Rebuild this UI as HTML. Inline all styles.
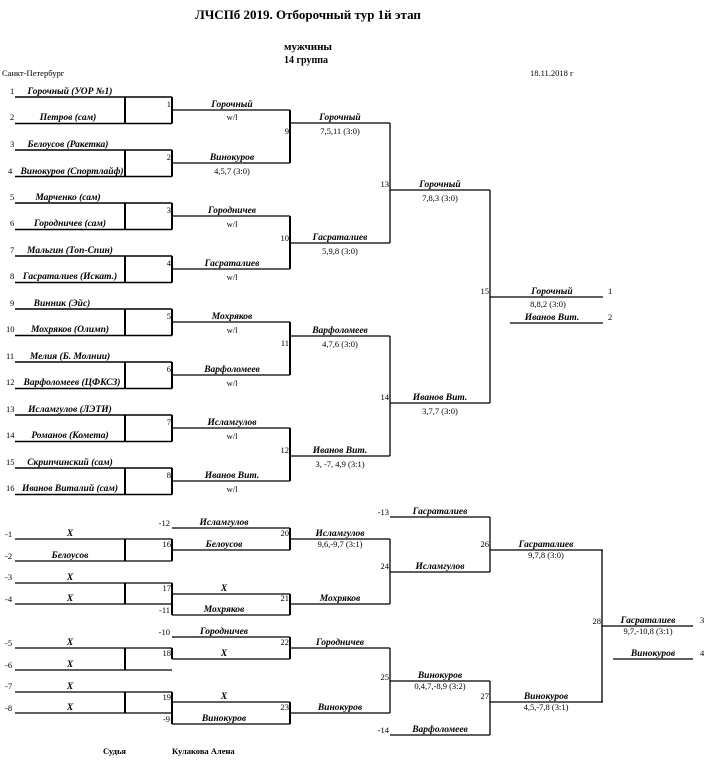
<!DOCTYPE html>
<html><head><meta charset="utf-8"><style>
html,body{margin:0;padding:0;background:#fff;}
svg{display:block;}
.n{font-family:"Liberation Serif",serif;font-style:italic;font-weight:bold;font-size:9.5px;fill:#000;}
.s{font-family:"Liberation Serif",serif;font-size:8.5px;fill:#000;}
.h{font-family:"Liberation Serif",serif;font-weight:bold;fill:#000;}
</style></head><body>
<svg width="708" height="760" viewBox="0 0 708 760" xmlns="http://www.w3.org/2000/svg">
<text class="h" x="308" y="19" font-size="13" text-anchor="middle">ЛЧСПб 2019. Отборочный тур 1й этап</text>
<text class="h" x="308" y="50" font-size="11" text-anchor="middle">мужчины</text>
<text class="h" x="306" y="63" font-size="10" text-anchor="middle">14  группа</text>
<text class="s" x="2" y="76" font-size="10">Санкт-Петербург</text>
<text class="s" x="530" y="76" font-size="10">18.11.2018 г</text>
<text class="s" x="103" y="754" font-size="8" font-weight="bold">Судья</text>
<text class="s" x="172" y="754" font-size="8" font-weight="bold">Кулакова Алена</text>

<g stroke="#000" fill="none">
<path stroke-width="1.5" d="M15 97H172M15 123.5H172M15 150H172M15 176.5H172M15 203H172M15 229.5H172M15 256H172M15 282.5H172M15 309H172M15 335.5H172M15 362H172M15 388.5H172M15 415H172M15 441.5H172M15 468H172M15 494.5H172"/>
<path stroke-width="2" d="M125 97V123.5M172 97V123.5M125 150V176.5M172 150V176.5M125 203V229.5M172 203V229.5M125 256V282.5M172 256V282.5M125 309V335.5M172 309V335.5M125 362V388.5M172 362V388.5M125 415V441.5M172 415V441.5M125 468V494.5M172 468V494.5"/>
<path stroke-width="1.3" d="M172 110H290M172 163H290M172 216H290M172 269H290M172 322H290M172 375H290M172 428H290M172 481H290"/>
<path stroke-width="2" d="M290 110V163M290 216V269M290 322V375M290 428V481"/>
<path stroke-width="1.3" d="M290 123H390M290 243H390M290 336H390M290 456H390"/>
<path stroke-width="1.3" d="M390 123V243M390 336V456"/>
<path stroke-width="1.3" d="M390 190H490M390 403H490M490 190V403M490 297H603M510 323H603"/>

<path stroke-width="1.3" d="M15 539H172M15 561H172M15 583H172M15 604H172M15 648H172M15 670H172M15 692H172M15 713H172"/>
<path stroke-width="2" d="M125 539V561M172 539V561M125 583V604M172 583V615M125 648V670M172 648V659M125 692V713M172 692V724"/>
<path stroke-width="1.3" d="M172 528H290M172 550H290M172 594H290M172 615H290M172 637H290M172 659H290M172 702H290M172 724H290"/>
<path stroke-width="2" d="M290 528V550M290 594V615M290 637V659M290 702V724"/>
<path stroke-width="1.3" d="M290 539H390M290 604H390M290 648H390M290 713H390M390 539V604M390 648V713"/>
<path stroke-width="1.3" d="M390 517H490M390 572H490M390 681H490M390 735H490M490 517V572M490 681V735"/>
<path stroke-width="1.3" d="M490 550H603M490 702H603M602 550V702M602 626H693M613 659H693"/>
</g>

<g class="s">
<text x="10" y="94">1</text><text x="10" y="120">2</text><text x="10" y="147">3</text><text x="8" y="174">4</text>
<text x="10" y="200">5</text><text x="10" y="226">6</text><text x="10" y="253">7</text><text x="10" y="279">8</text>
<text x="10" y="306">9</text><text x="6" y="332">10</text><text x="6" y="359">11</text><text x="6" y="385">12</text>
<text x="6" y="412">13</text><text x="6" y="438">14</text><text x="6" y="465">15</text><text x="6" y="491">16</text>
<g text-anchor="end">
<text x="171" y="107">1</text><text x="171" y="160">2</text><text x="171" y="213">3</text><text x="171" y="266">4</text>
<text x="171" y="319">5</text><text x="171" y="372">6</text><text x="171" y="425">7</text><text x="171" y="478">8</text>
<text x="289" y="134">9</text><text x="289" y="241">10</text><text x="289" y="346">11</text><text x="289" y="453">12</text>
<text x="389" y="187">13</text><text x="389" y="400">14</text><text x="489" y="294">15</text>
<text x="171" y="547">16</text><text x="171" y="591">17</text><text x="171" y="656">18</text><text x="171" y="700">19</text>
<text x="289" y="536">20</text><text x="289" y="601">21</text><text x="289" y="645">22</text><text x="289" y="710">23</text>
<text x="389" y="569">24</text><text x="389" y="680">25</text><text x="489" y="547">26</text><text x="489" y="699">27</text>
<text x="601" y="624">28</text>
<text x="170" y="526">-12</text><text x="170" y="613">-11</text><text x="170" y="635">-10</text><text x="170" y="722">-9</text>
<text x="389" y="515">-13</text><text x="389" y="733">-14</text>
</g>
<text x="5" y="537">-1</text><text x="5" y="559">-2</text><text x="5" y="580">-3</text><text x="5" y="602">-4</text>
<text x="5" y="646">-5</text><text x="5" y="668">-6</text><text x="5" y="689">-7</text><text x="5" y="711">-8</text>
<text x="608" y="294">1</text><text x="608" y="320">2</text><text x="700" y="623">3</text><text x="700" y="656">4</text>
<g text-anchor="middle">
<text x="232" y="120">w/l</text><text x="232" y="174">4,5,7 (3:0)</text><text x="232" y="227">w/l</text><text x="232" y="280">w/l</text>
<text x="232" y="333">w/l</text><text x="232" y="386">w/l</text><text x="232" y="439">w/l</text><text x="232" y="492">w/l</text>
<text x="340" y="134">7,5,11 (3:0)</text><text x="340" y="254">5,9,8 (3:0)</text><text x="340" y="347">4,7,6 (3:0)</text><text x="340" y="467">3, -7, 4,9 (3:1)</text>
<text x="440" y="201">7,8,3 (3:0)</text><text x="440" y="414">3,7,7 (3:0)</text><text x="548" y="307">8,8,2 (3:0)</text>
<text x="340" y="547">9,6,-9,7 (3:1)</text><text x="440" y="689">0,4,7,-8,9 (3:2)</text>
<text x="546" y="558">9,7,8 (3:0)</text><text x="546" y="710">4,5,-7,8 (3:1)</text><text x="648" y="634">9,7,-10,8 (3:1)</text>
</g>
</g>

<g class="n" text-anchor="middle">
<text x="70" y="94">Горочный (УОР №1)</text>
<text x="68" y="120">Петров (сам)</text>
<text x="68" y="147">Белоусов (Ракетка)</text>
<text x="72" y="174">Винокуров (Спортлайф)</text>
<text x="68" y="200">Марченко (сам)</text>
<text x="70" y="226">Городничев (сам)</text>
<text x="70" y="253">Мальгин (Топ-Спин)</text>
<text x="70" y="279">Гасраталиев (Искат.)</text>
<text x="62" y="306">Винник (Эйс)</text>
<text x="70" y="332">Мохряков (Олимп)</text>
<text x="70" y="359">Мелия (Б. Молнии)</text>
<text x="72" y="385">Варфоломеев (ЦФКСЗ)</text>
<text x="70" y="412">Исламгулов (ЛЭТИ)</text>
<text x="70" y="438">Романов (Комета)</text>
<text x="70" y="465">Скрипчинский (сам)</text>
<text x="70" y="491">Иванов Виталий (сам)</text>

<text x="232" y="107">Горочный</text><text x="232" y="160">Винокуров</text>
<text x="232" y="213">Городничев</text><text x="232" y="266">Гасраталиев</text>
<text x="232" y="319">Мохряков</text><text x="232" y="372">Варфоломеев</text>
<text x="232" y="425">Исламгулов</text><text x="232" y="478">Иванов Вит.</text>
<text x="340" y="120">Горочный</text><text x="340" y="240">Гасраталиев</text>
<text x="340" y="333">Варфоломеев</text><text x="340" y="453">Иванов Вит.</text>
<text x="440" y="187">Горочный</text><text x="440" y="400">Иванов Вит.</text>
<text x="552" y="294">Горочный</text><text x="552" y="320">Иванов Вит.</text>

<text x="70" y="536">X</text><text x="70" y="558">Белоусов</text><text x="70" y="580">X</text><text x="70" y="601">X</text>
<text x="70" y="645">X</text><text x="70" y="667">X</text><text x="70" y="689">X</text><text x="70" y="710">X</text>
<text x="224" y="525">Исламгулов</text><text x="224" y="547">Белоусов</text>
<text x="224" y="591">X</text><text x="224" y="612">Мохряков</text>
<text x="224" y="634">Городничев</text><text x="224" y="656">X</text>
<text x="224" y="699">X</text><text x="224" y="721">Винокуров</text>
<text x="340" y="536">Исламгулов</text><text x="340" y="601">Мохряков</text>
<text x="340" y="645">Городничев</text><text x="340" y="710">Винокуров</text>
<text x="440" y="514">Гасраталиев</text><text x="440" y="569">Исламгулов</text>
<text x="440" y="678">Винокуров</text><text x="440" y="732">Варфоломеев</text>
<text x="546" y="547">Гасраталиев</text><text x="546" y="699">Винокуров</text>
<text x="648" y="623">Гасраталиев</text><text x="653" y="656">Винокуров</text>
</g>
</svg>
</body></html>
